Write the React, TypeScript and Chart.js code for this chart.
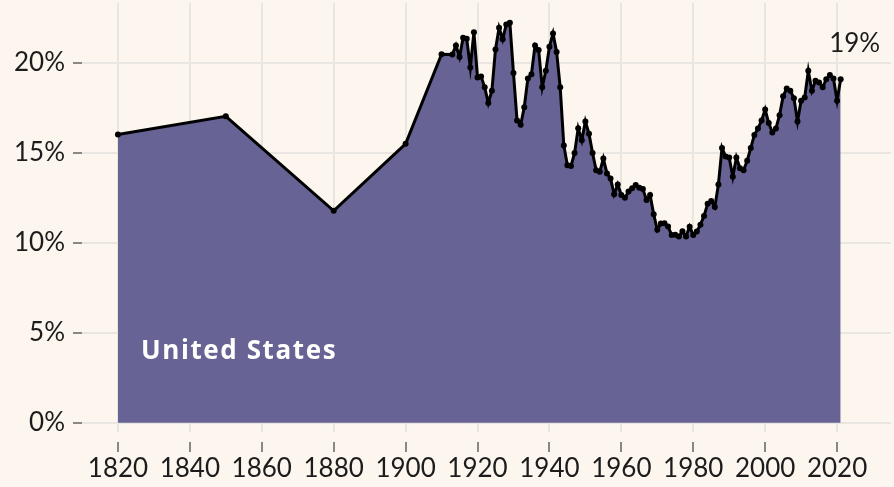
import React, { useEffect, useRef } from "react";
import { Chart, registerables } from "chart.js";

Chart.register(...registerables);

const seriesLabel = "United States";

const years = [
  1820, 1850, 1880, 1900, 1910, 1913, 1914, 1915, 1916, 1917, 1918, 1919,
  1920, 1921, 1922, 1923, 1924, 1925, 1926, 1927, 1928, 1929,
  1930, 1931, 1932, 1933, 1934, 1935, 1936, 1937, 1938, 1939,
  1940, 1941, 1942, 1943, 1944, 1945, 1946, 1947, 1948, 1949,
  1950, 1951, 1952, 1953, 1954, 1955, 1956, 1957, 1958, 1959,
  1960, 1961, 1962, 1963, 1964, 1965, 1966, 1967, 1968, 1969,
  1970, 1971, 1972, 1973, 1974, 1975, 1976, 1977, 1978, 1979,
  1980, 1981, 1982, 1983, 1984, 1985, 1986, 1987, 1988, 1989,
  1990, 1991, 1992, 1993, 1994, 1995, 1996, 1997, 1998, 1999,
  2000, 2001, 2002, 2003, 2004, 2005, 2006, 2007, 2008, 2009,
  2010, 2011, 2012, 2013, 2014, 2015, 2016, 2017, 2018, 2019,
  2020, 2021,
];

const shares = [
  16.03, 17.04, 11.78, 15.51, 20.49, 20.47, 20.98, 20.34, 21.41, 21.35, 19.75, 21.72,
  19.2, 19.25, 18.65, 17.78, 18.46, 20.76, 21.96, 21.32, 22.15, 22.24,
  19.44, 16.8, 16.57, 17.54, 19.14, 19.38, 20.98, 20.73, 18.65, 19.57,
  20.91, 21.65, 20.62, 18.65, 15.42, 14.32, 14.28, 15.0, 16.38, 15.7,
  16.75, 16.07, 15.0, 14.04, 13.95, 14.69, 13.86, 13.58, 12.7, 13.25,
  12.66, 12.51, 12.85, 13.03, 13.22, 13.07, 12.99, 12.39, 12.66, 11.59,
  10.73, 11.08, 11.09, 10.91, 10.43, 10.45, 10.36, 10.64, 10.36, 10.9,
  10.43, 10.63, 11.01, 11.5, 12.17, 12.33, 12.0, 13.25, 15.28, 14.8,
  14.75, 13.67, 14.75, 14.15, 14.04, 14.57, 15.28, 16.0, 16.36, 16.8,
  17.41, 16.66, 16.14, 16.36, 17.1, 18.15, 18.59, 18.46, 18.04, 16.75,
  17.91, 18.09, 19.57, 18.46, 19.01, 18.92, 18.65, 19.1, 19.33, 19.14,
  17.91, 19.1,
];

const xTicks = [1820, 1840, 1860, 1880, 1900, 1920, 1940, 1960, 1980, 2000, 2020];
const yTicks = [0, 5, 10, 15, 20];

const BG = "#fcf6ee";
const FILL = "#676395";
const GRID = "#e9e5e0";
const TICK = "#8a8784";
const TEXT = "#1c1c1c";
const FONT = "Lato";

const labelsPlugin = {
  id: "labelsPlugin",
  afterDatasetsDraw(chart: any) {
    const { ctx, scales } = chart;
    const xs = scales.x;
    const ys = scales.y;
    ctx.save();
    const fx = xs.getPixelForValue(years[0]);
    const zy = ys.getPixelForValue(0);
    ctx.font = `bold 26px "Open Sans"`;
    try {
      (ctx as any).letterSpacing = "1.6px";
    } catch (e) {}
    ctx.fillStyle = "#ffffff";
    ctx.textAlign = "left";
    ctx.textBaseline = "alphabetic";
    ctx.fillText(seriesLabel, fx + 23, zy - 64);
    try {
      (ctx as any).letterSpacing = "0px";
    } catch (e) {}
    const last = shares[shares.length - 1];
    const lx = xs.getPixelForValue(years[years.length - 1]);
    const ly = ys.getPixelForValue(last);
    ctx.font = `26px ${FONT}`;
    ctx.fillStyle = TEXT;
    ctx.textAlign = "center";
    ctx.fillText(`${Math.round(last)}%`, lx + 14, ly - 27);
    ctx.restore();
  },
};

export default function App() {
  const ref = useRef<HTMLCanvasElement | null>(null);

  useEffect(() => {
    document.body.style.margin = "0";
    const canvas = ref.current;
    if (!canvas) return;
    const chart = new Chart(canvas, {
      type: "line",
      data: {
        datasets: [
          {
            label: seriesLabel,
            data: years.map((y, i) => ({ x: y, y: shares[i] })),
            borderColor: "#000000",
            borderWidth: 3,
            backgroundColor: FILL,
            fill: "origin",
            tension: 0,
            pointRadius: 3,
            pointBackgroundColor: "#000000",
            pointBorderWidth: 0,
            pointHoverRadius: 3,
          },
        ],
      },
      options: {
        animation: false,
        responsive: false,
        devicePixelRatio: 1,
        layout: { padding: 0 },
        plugins: {
          legend: { display: false },
          tooltip: { enabled: false },
        },
        scales: {
          x: {
            type: "linear",
            min: 1810,
            max: 2035,
            afterBuildTicks: (s: any) => {
              s.ticks = xTicks.map((v) => ({ value: v }));
            },
            afterFit: (s: any) => {
              s.height = 55;
              s.paddingLeft = 0;
              s.paddingRight = 0;
            },
            border: { display: false },
            grid: {
              color: GRID,
              lineWidth: 2,
              tickLength: 20,
              tickColor: TICK,
              tickWidth: 2,
              tickBorderDash: [10, 10],
              tickBorderDashOffset: 10,
            },
            ticks: {
              color: TEXT,
              font: { family: FONT, size: 26 },
              padding: 1,
              maxRotation: 0,
              autoSkip: false,
              callback: (v: any) => String(v),
            },
          },
          y: {
            type: "linear",
            min: -0.52,
            max: 23.34,
            afterBuildTicks: (s: any) => {
              s.ticks = yTicks.map((v) => ({ value: v }));
            },
            afterFit: (s: any) => {
              s.width = 82;
              s.paddingTop = 0;
              s.paddingBottom = 0;
            },
            border: { display: false },
            grid: {
              color: GRID,
              lineWidth: 2,
              tickLength: 9,
              tickColor: TICK,
              tickWidth: 2,
            },
            ticks: {
              color: TEXT,
              font: { family: FONT, size: 26 },
              padding: 8,
              autoSkip: false,
              callback: (v: any) => `${v}%`,
            },
          },
        },
      },
      plugins: [labelsPlugin],
    });
    return () => chart.destroy();
  }, []);

  return (
    <div
      style={{
        position: "fixed",
        left: 0,
        top: 0,
        width: 894,
        height: 487,
        background: BG,
      }}
    >
      <canvas ref={ref} width={894} height={487} style={{ display: "block" }} />
    </div>
  );
}
